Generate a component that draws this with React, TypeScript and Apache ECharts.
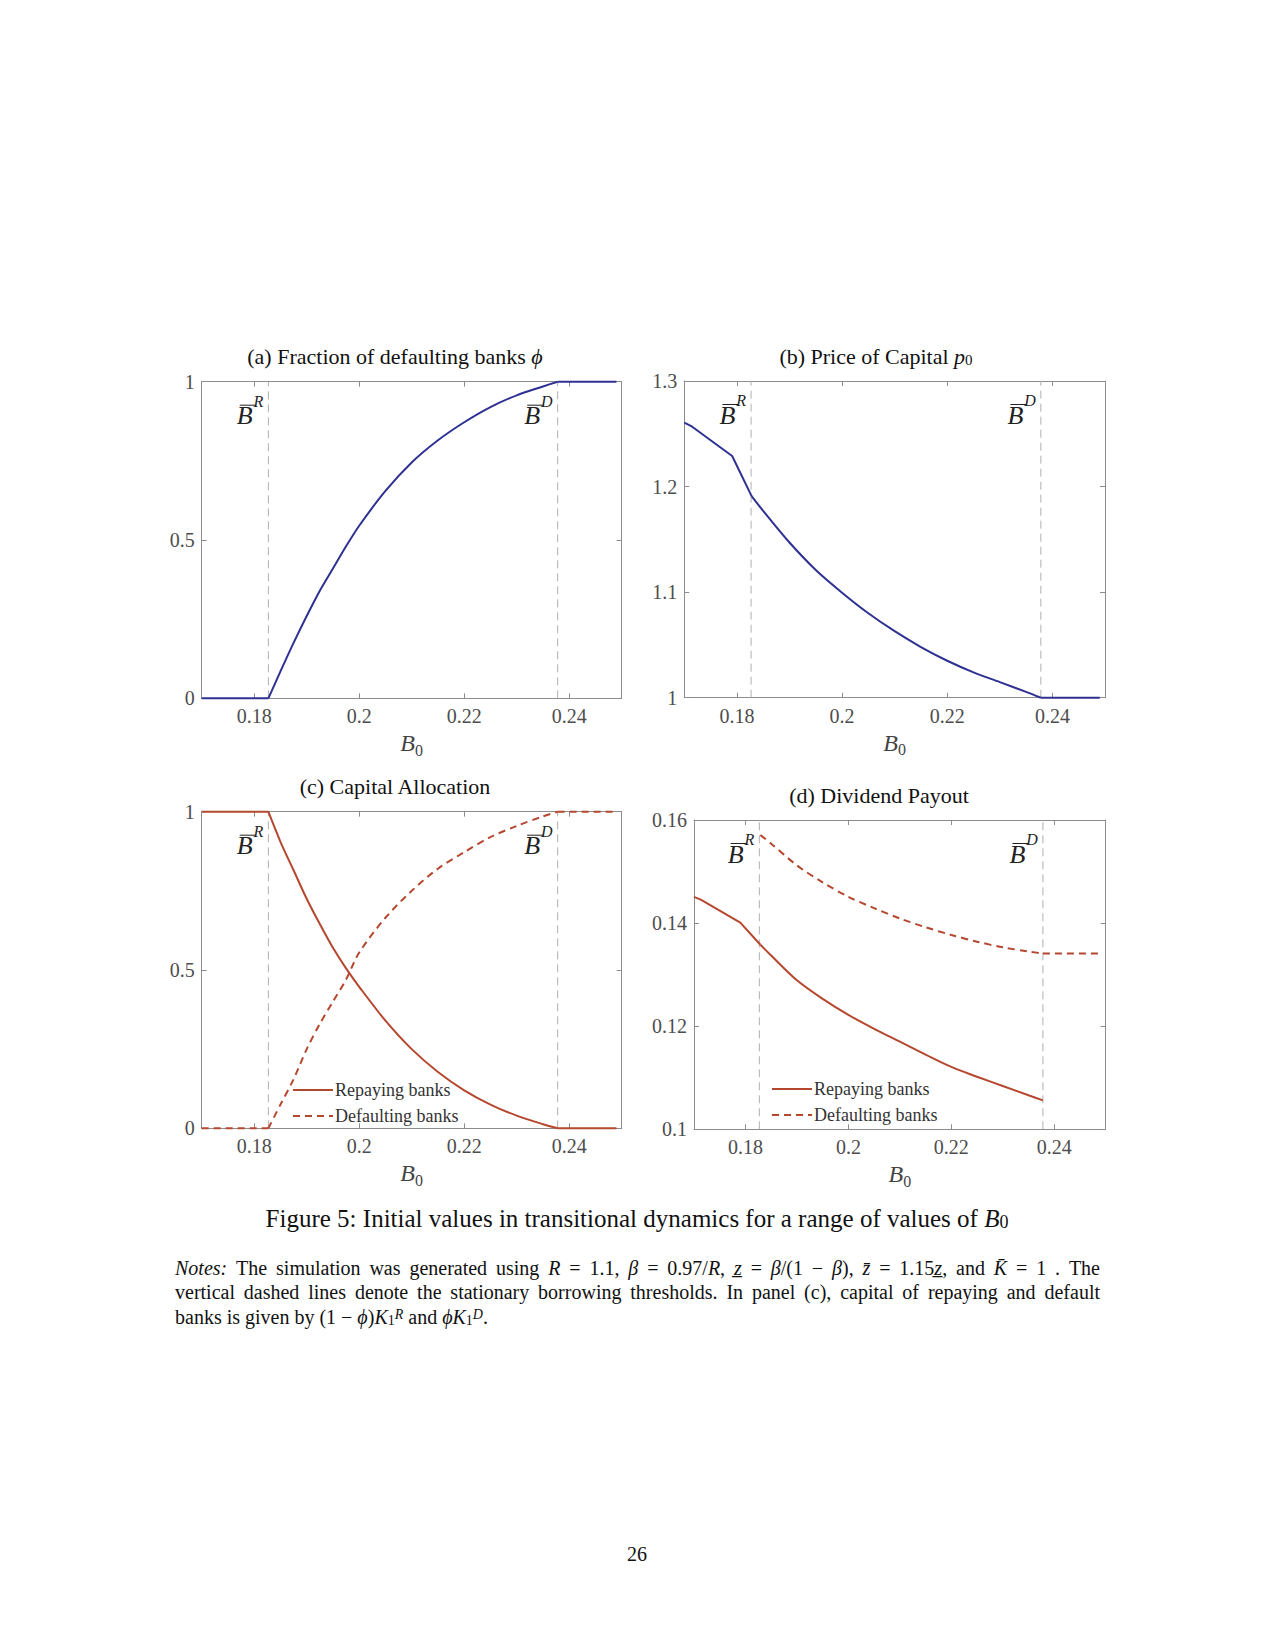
import React, { useEffect, useRef } from 'react';
import * as echarts from 'echarts';

// ---------- data ----------
const X_TICKS = [0.18, 0.2, 0.22, 0.24];
const X_MIN = 0.17;
const X_MAX = 0.25;
const B_R = 0.1827;
const B_D = 0.2378;

// (a) fraction of defaulting banks phi
const xPhi = [0.17, 0.1827, 0.185, 0.1875, 0.19, 0.1925, 0.195, 0.1975, 0.2, 0.205, 0.21, 0.215, 0.22, 0.225, 0.23, 0.235, 0.2378, 0.249];
const phiVals = [0, 0, 0.085, 0.175, 0.26, 0.34, 0.41, 0.48, 0.545, 0.655, 0.745, 0.815, 0.872, 0.92, 0.957, 0.985, 1, 1];
const yTicksA = [0, 0.5, 1];

// (b) price of capital p0
const xPrice = [0.17, 0.1715, 0.1791, 0.1828, 0.185, 0.19, 0.195, 0.2, 0.205, 0.21, 0.215, 0.22, 0.225, 0.23, 0.235, 0.2378, 0.249];
const priceVals = [1.2605, 1.2567, 1.229, 1.191, 1.177, 1.147, 1.121, 1.0995, 1.08, 1.063, 1.048, 1.035, 1.024, 1.0148, 1.0055, 1.0, 1.0];
const yTicksB = [1, 1.1, 1.2, 1.3];

// (c) capital allocation
const xCap = [0.17, 0.1827, 0.185, 0.1875, 0.19, 0.1925, 0.195, 0.1975, 0.2, 0.205, 0.21, 0.215, 0.22, 0.225, 0.23, 0.235, 0.2378, 0.249];
const repayCap = [1, 1, 0.905, 0.815, 0.725, 0.645, 0.57, 0.505, 0.447, 0.34, 0.25, 0.178, 0.12, 0.075, 0.04, 0.013, 0, 0];
const defaultCap = [0, 0, 0.075, 0.155, 0.25, 0.33, 0.4, 0.47, 0.555, 0.665, 0.75, 0.82, 0.872, 0.92, 0.955, 0.985, 1, 1];
const yTicksC = [0, 0.5, 1];

// (d) dividend payout
const xDivR = [0.17, 0.1714, 0.179, 0.1829, 0.185, 0.19, 0.195, 0.2, 0.205, 0.21, 0.215, 0.22, 0.225, 0.23, 0.235, 0.2378];
const divRepay = [0.1451, 0.1445, 0.1401, 0.1358, 0.1337, 0.1289, 0.1253, 0.1222, 0.1195, 0.117, 0.1145, 0.1121, 0.1102, 0.1084, 0.1066, 0.1056];
const xDivD = [0.1829, 0.185, 0.19, 0.195, 0.2, 0.205, 0.21, 0.215, 0.22, 0.225, 0.23, 0.235, 0.2378, 0.249];
const divDefault = [0.1571, 0.1554, 0.1512, 0.1479, 0.1451, 0.1429, 0.1409, 0.1392, 0.1377, 0.1364, 0.1353, 0.1345, 0.1341, 0.1341];
const yTicksD = [0.1, 0.12, 0.14, 0.16];

const LEGEND_NAMES = ['Repaying banks', 'Defaulting banks'];

// ---------- style ----------
const SERIF = '"Liberation Serif", "DejaVu Serif", serif';
const BLUE = '#2E3192';
const RED = '#B5472F';
const AXIS = '#8c8c8c';
const LABEL = '#4d4d4d';
const VLINE = '#b0b0b0';

const zip = (xs: number[], ys: number[]) => xs.map((x, i) => [x, ys[i]]);
const fmt = (v: number) => String(parseFloat(v.toFixed(4)));

function makeXAxes(g: number) {
  const common = {
    type: 'value',
    gridIndex: g,
    min: X_MIN,
    max: X_MAX,
    splitLine: { show: false },
    axisLine: { show: true, onZero: false, lineStyle: { color: AXIS, width: 1 } },
    axisTick: { show: true, inside: true, length: 5, customValues: X_TICKS, lineStyle: { color: AXIS, width: 1 } },
  };
  return [
    {
      ...common,
      position: 'bottom',
      axisLabel: { show: true, customValues: X_TICKS, margin: 8, color: LABEL, fontFamily: SERIF, fontSize: 20, formatter: fmt },
      name: '{b|B}{s|0}',
      nameLocation: 'middle',
      nameGap: 33,
      nameTextStyle: {
        rich: {
          b: { fontFamily: SERIF, fontSize: 24, fontStyle: 'italic', color: '#444', verticalAlign: 'top', lineHeight: 24 },
          s: { fontFamily: SERIF, fontSize: 16, color: '#444', lineHeight: 38 },
        },
      },
    },
    { ...common, position: 'top', axisLabel: { show: false, customValues: X_TICKS } },
  ];
}

function makeYAxes(g: number, min: number, max: number, ticks: number[]) {
  const common = {
    type: 'value',
    gridIndex: g,
    min,
    max,
    splitLine: { show: false },
    axisLine: { show: true, onZero: false, lineStyle: { color: AXIS, width: 1 } },
    axisTick: { show: true, inside: true, length: 5, customValues: ticks, lineStyle: { color: AXIS, width: 1 } },
  };
  return [
    {
      ...common,
      position: 'left',
      axisLabel: { show: true, customValues: ticks, margin: 7, color: LABEL, fontFamily: SERIF, fontSize: 20, formatter: fmt },
    },
    { ...common, position: 'right', axisLabel: { show: false, customValues: ticks } },
  ];
}

// split a curve into: straight part before B_R, smooth part between thresholds, straight part after B_D
function curveSeries(name: string, g: number, xs: number[], ys: number[], color: string, dashed: boolean) {
  const pts = zip(xs, ys);
  const eps = 1e-4;
  const before = pts.filter((p) => p[0] <= B_R + 3 * eps);
  const mid = pts.filter((p) => p[0] >= B_R - eps && p[0] <= B_D + eps);
  const after = pts.filter((p) => p[0] >= B_D - eps);
  const base = {
    type: 'line',
    name,
    xAxisIndex: g * 2,
    yAxisIndex: g * 2,
    symbol: 'none',
    showSymbol: false,
    clip: false,
    z: 3,
    lineStyle: { color, width: 2, type: dashed ? [7, 5] : 'solid' },
    itemStyle: { color },
  };
  const out: any[] = [];
  if (mid.length > 1) out.push({ ...base, data: mid, smooth: 0.3 });
  if (before.length > 1) out.push({ ...base, data: before });
  if (after.length > 1) out.push({ ...base, data: after });
  return out;
}

function vlineSeries(g: number, x: number, ymin: number, ymax: number) {
  return {
    type: 'line',
    name: 'threshold',
    xAxisIndex: g * 2,
    yAxisIndex: g * 2,
    data: [
      [x, ymin],
      [x, ymax],
    ],
    symbol: 'none',
    showSymbol: false,
    silent: true,
    z: 2,
    lineStyle: { color: VLINE, width: 1, type: [8, 5] },
    itemStyle: { color: VLINE },
  };
}

function tokenStyle(size: number, italic: boolean, color: string, extra: any = {}) {
  return { fontFamily: SERIF, fontSize: size, fontStyle: italic ? 'italic' : 'normal', fill: color, color, ...extra };
}

function richStyles(size: number, color: string) {
  return {
    n: tokenStyle(size, false, color),
    i: tokenStyle(size, true, color),
    sub: tokenStyle(Math.round(size * 0.7), false, color, { verticalAlign: 'bottom', lineHeight: Math.round(size * 0.4) }),
    sup: tokenStyle(Math.round(size * 0.7), true, color, { verticalAlign: 'top', lineHeight: Math.round(size * 0.45) }),
  };
}

function richText(x: number, y: number, text: string, size: number, color: string, align = 'center') {
  return {
    type: 'text',
    x,
    y,
    silent: true,
    style: {
      text,
      fontFamily: SERIF,
      fontSize: size,
      fill: color,
      align,
      verticalAlign: 'middle',
      rich: richStyles(size, color),
    },
  };
}

export default function App() {
  const ref = useRef<HTMLDivElement>(null);

  useEffect(() => {
    if (!ref.current) return;
    const chart = echarts.init(ref.current, null, { renderer: 'svg' });

    const legendCommon = {
      data: LEGEND_NAMES,
      orient: 'vertical',
      itemWidth: 40,
      itemHeight: 14,
      itemGap: 8,
      selectedMode: false,
      itemStyle: { opacity: 0, borderWidth: 0 },
      textStyle: { fontFamily: SERIF, fontSize: 18, color: '#333', padding: [0, 0, 0, -3] },
    };

    const option: any = {
      animation: false,
      backgroundColor: '#ffffff',
      grid: [
        { left: 201.7, top: 381.7, width: 420, height: 316.6 },
        { left: 684.3, top: 381, width: 420.7, height: 316.7 },
        { left: 201.7, top: 811.7, width: 420, height: 316.6 },
        { left: 694, top: 820, width: 411.7, height: 309.3 },
      ],
      xAxis: [...makeXAxes(0), ...makeXAxes(1), ...makeXAxes(2), ...makeXAxes(3)],
      yAxis: [
        ...makeYAxes(0, 0, 1, yTicksA),
        ...makeYAxes(1, 1, 1.3, yTicksB),
        ...makeYAxes(2, 0, 1, yTicksC),
        ...makeYAxes(3, 0.1, 0.16, yTicksD),
      ],
      legend: [
        { ...legendCommon, left: 287, top: 1076 },
        { ...legendCommon, left: 766, top: 1075 },
      ],
      series: [
        vlineSeries(0, B_R, 0, 1),
        vlineSeries(0, B_D, 0, 1),
        vlineSeries(1, B_R, 1, 1.3),
        vlineSeries(1, B_D, 1, 1.3),
        vlineSeries(2, B_R, 0, 1),
        vlineSeries(2, B_D, 0, 1),
        vlineSeries(3, B_R, 0.1, 0.16),
        vlineSeries(3, B_D, 0.1, 0.16),
        ...curveSeries('Repaying banks', 2, xCap, repayCap, RED, false),
        ...curveSeries('Defaulting banks', 2, xCap, defaultCap, RED, true),
        ...curveSeries('Repaying banks', 3, xDivR, divRepay, RED, false),
        ...curveSeries('Defaulting banks', 3, xDivD, divDefault, RED, true),
        ...curveSeries('phi', 0, xPhi, phiVals, BLUE, false),
        ...curveSeries('p0', 1, xPrice, priceVals, BLUE, false),
      ],
    };
    chart.setOption(option);

    // text measurement
    const canvas = document.createElement('canvas');
    const ctx = canvas.getContext('2d') as CanvasRenderingContext2D;
    const measure = (t: string, font: string) => {
      ctx.font = font;
      return ctx.measureText(t).width;
    };

    const graphics: any[] = [];

    // threshold labels  \bar{B}^R, \bar{B}^D
    const B_FONT = `italic 26px ${SERIF}`;
    const SUP_FONT = `italic 16px ${SERIF}`;
    const wB = measure('B', B_FONT);
    const panels = [
      { g: 0, yMax: 1 },
      { g: 1, yMax: 1.3 },
      { g: 2, yMax: 1 },
      { g: 3, yMax: 0.16 },
    ];
    panels.forEach(({ g, yMax }) => {
      [
        { x: B_R, sup: 'R' },
        { x: B_D, sup: 'D' },
      ].forEach(({ x, sup }) => {
        const p = chart.convertToPixel({ xAxisIndex: g * 2, yAxisIndex: g * 2 }, [x, yMax]) as number[];
        const lineX = p[0];
        const top = p[1];
        const wS = measure(sup, SUP_FONT);
        const supLeft = lineX - 5 - wS;
        const bRight = supLeft - 1;
        const bLeft = bRight - wB;
        graphics.push({
          type: 'text',
          x: bRight,
          y: top + 34,
          silent: true,
          style: { text: 'B', font: B_FONT, fill: '#222', align: 'right', verticalAlign: 'middle' },
        });
        graphics.push({
          type: 'text',
          x: supLeft,
          y: top + 19.5,
          silent: true,
          style: { text: sup, font: SUP_FONT, fill: '#222', align: 'left', verticalAlign: 'middle' },
        });
        graphics.push({
          type: 'line',
          silent: true,
          shape: { x1: bLeft + 3, y1: top + 23.5, x2: bRight + 3, y2: top + 23.5 },
          style: { stroke: '#222', lineWidth: 1 },
        });
      });
    });

    // panel titles
    graphics.push(richText(395, 356, '(a) Fraction of defaulting banks {i|ϕ}', 22, '#111'));
    graphics.push(richText(876, 356, '(b) Price of Capital {i|p}{sub|0}', 22, '#111'));
    graphics.push(richText(395, 786, '(c) Capital Allocation', 22, '#111'));
    graphics.push(richText(879, 795, '(d) Dividend Payout', 22, '#111'));

    // caption
    graphics.push(richText(637, 1218, 'Figure 5: Initial values in transitional dynamics for a range of values of {i|B}{sub|0}', 25, '#111'));

    // notes, justified lines
    const NOTE_SIZE = 20;
    const segRe = /\{(\w+)\|([^}]*)\}|([^{]+)/g;
    const fontFor = (style: string, size: number) => {
      if (style === 'i') return `italic ${size}px ${SERIF}`;
      if (style === 'sub') return `${Math.round(size * 0.7)}px ${SERIF}`;
      if (style === 'sup') return `italic ${Math.round(size * 0.7)}px ${SERIF}`;
      return `${size}px ${SERIF}`;
    };
    const wordWidth = (w: string, size: number) => {
      let total = 0;
      let m: RegExpExecArray | null;
      segRe.lastIndex = 0;
      while ((m = segRe.exec(w))) {
        if (m[3] != null) total += measure(m[3], fontFor('n', size));
        else total += measure(m[2], fontFor(m[1], size));
      }
      return total;
    };
    const NOTE_LEFT = 175;
    const NOTE_RIGHT = 1100;
    const noteLines = [
      { y: 1268, justify: true, text: '{i|Notes:} The simulation was generated using {i|R} = 1.1, {i|β} = 0.97/{i|R}, {i|z̲} = {i|β}/(1 − {i|β}), {i|z̄} = 1.15{i|z̲}, and {i|K̄} = 1 . The' },
      { y: 1292, justify: true, text: 'vertical dashed lines denote the stationary borrowing thresholds. In panel (c), capital of repaying and default' },
      { y: 1317, justify: false, text: 'banks is given by (1 − {i|ϕ}){i|K}{sub|1}{sup|R} and {i|ϕK}{sub|1}{sup|D}.' },
    ];
    noteLines.forEach(({ y, justify, text }) => {
      if (!justify) {
        graphics.push(richText(NOTE_LEFT, y, text, NOTE_SIZE, '#111', 'left'));
        return;
      }
      const words = text.split(' ').filter((w) => w.length > 0);
      const widths = words.map((w) => wordWidth(w, NOTE_SIZE));
      const sum = widths.reduce((a, b) => a + b, 0);
      const gap = (NOTE_RIGHT - NOTE_LEFT - sum) / (words.length - 1);
      let x = NOTE_LEFT;
      words.forEach((w, k) => {
        graphics.push(richText(x, y, w, NOTE_SIZE, '#111', 'left'));
        x += widths[k] + gap;
      });
    });

    graphics.push(richText(637, 1554, '26', 20, '#111'));

    chart.setOption({ graphic: graphics });

    return () => {
      chart.dispose();
    };
  }, []);

  return (
    <div
      ref={ref}
      style={{ position: 'absolute', left: 0, top: 0, width: 1275, height: 1650, background: '#fff' }}
    />
  );
}
